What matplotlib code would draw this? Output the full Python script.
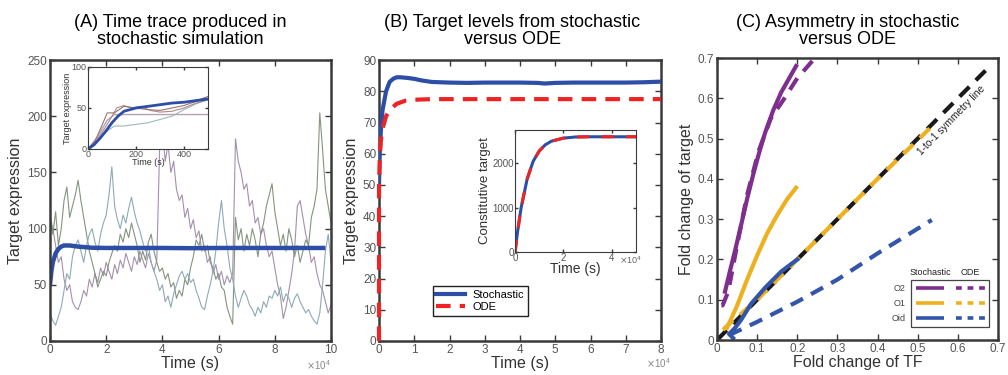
import numpy as np
import matplotlib
matplotlib.use("Agg")
import matplotlib.pyplot as plt
from matplotlib.ticker import FuncFormatter
from matplotlib.patches import Rectangle

plt.rcParams['font.family'] = ['Liberation Sans', 'DejaVu Sans']

# ---------------- Panel A data ----------------
time_a = [i / 10 for i in range(101)]  # x 1e4 s
trace_purple = [112, 100, 85, 70, 75, 55, 45, 50, 35, 30,
                28, 35, 45, 40, 55, 48, 60, 52, 65, 58,
                70, 62, 55, 68, 60, 72, 65, 78, 70, 62,
                75, 68, 80, 72, 65, 78, 70, 62, 72, 170,
                188, 160, 175, 150, 160, 135, 125, 130, 110, 118,
                100, 108, 92, 98, 80, 85, 70, 75, 60, 68,
                55, 62, 50, 58, 52, 60, 180, 160, 150, 135,
                140, 120, 125, 105, 110, 95, 100, 85, 75, 80,
                65, 50, 40, 20, 30, 45, 60, 80, 120, 125,
                110, 95, 85, 70, 75, 60, 50, 45, 35, 25, 32]
trace_green = [110, 95, 115, 85, 100, 125, 137, 110, 120, 130,
               143, 125, 110, 95, 80, 70, 60, 48, 55, 62,
               58, 70, 78, 85, 80, 95, 88, 100, 92, 105,
               95, 85, 70, 80, 72, 88, 95, 80, 70, 62,
               65, 55, 60, 48, 52, 38, 45, 40, 55, 50,
               65, 75, 90, 85, 95, 80, 85, 70, 65, 55,
               60, 48, 45, 30, 22, 15, 110, 90, 100, 80,
               95, 85, 100, 90, 75, 95, 105, 120, 130, 140,
               115, 100, 85, 95, 80, 100, 90, 75, 85, 70,
               80, 90, 85, 110, 120, 135, 203, 170, 135, 120, 105]
trace_bluegray = [25, 18, 14, 22, 30, 45, 60, 55, 75, 85,
                  90, 80, 70, 85, 95, 100, 88, 80, 95, 105,
                  112, 130, 155, 120, 108, 100, 112, 105, 118, 128,
                  115, 105, 98, 88, 80, 85, 70, 62, 55, 45,
                  50, 35, 40, 30, 42, 50, 58, 62, 55, 60,
                  52, 55, 45, 38, 30, 28, 40, 50, 62, 80,
                  105, 125, 100, 85, 65, 55, 40, 30, 38, 45,
                  40, 32, 28, 22, 30, 25, 35, 30, 40, 38,
                  45, 40, 48, 35, 42, 38, 30, 38, 42, 35,
                  30, 25, 28, 22, 18, 15, 25, 50, 80, 95, 70]
mean_a_t = [0, 0.05, 0.1, 0.2, 0.3, 0.4, 0.5, 0.7, 1.0, 1.5, 2, 3, 4, 5, 6, 7, 8, 9, 9.8]
mean_a_y = [50, 62, 70, 78, 82, 84, 85, 85, 84, 83, 82.8, 82.8, 82.8, 82.6, 82.8, 82.8, 82.8, 82.8, 82.8]

# inset A
ins_mean_t = [0, 25, 50, 75, 100, 125, 150, 200, 250, 300, 350, 400, 450, 500]
ins_mean_y = [0, 5, 13, 22, 32, 40, 46, 50, 52, 54, 56, 57, 59, 61]
ins_t1_t = [0, 30, 60, 80, 110, 130, 150, 200, 250, 300, 350, 400, 450, 480, 500]
ins_t1_y = [0, 10, 30, 44, 44, 48, 52, 50, 48, 47, 50, 53, 58, 62, 64]
ins_t2_t = [0, 40, 80, 120, 150, 180, 220, 260, 300, 350, 400, 450, 500]
ins_t2_y = [0, 12, 30, 50, 53, 50, 52, 47, 45, 46, 50, 56, 60]
ins_t3_t = [0, 40, 80, 110, 130, 500]
ins_t3_y = [0, 15, 35, 42, 42, 42]
ins_t4_t = [0, 40, 80, 110, 150, 200, 250, 300, 350, 400, 450, 500]
ins_t4_y = [0, 10, 22, 28, 28, 30, 32, 36, 40, 48, 55, 60]

# ---------------- Panel B data ----------------
stoch_t = [0, 0.02, 0.05, 0.1, 0.2, 0.3, 0.4, 0.5, 0.6, 0.8, 1.0, 1.2, 1.5, 2, 2.5, 3, 3.5, 4, 4.5, 4.7, 5, 5.5, 6, 6.5, 7, 7.5, 8]
stoch_y = [50, 60, 67, 74, 80, 83, 84, 84.5, 84.5, 84.3, 84, 83.5, 83, 82.8, 82.7, 82.8, 82.8, 82.8, 82.7, 82.5, 82.7, 82.8, 82.8, 82.8, 82.8, 82.9, 83.1]
ode_t = [0, 0.001, 0.02, 0.05, 0.1, 0.2, 0.3, 0.5, 0.75, 1.0, 1.5, 2, 3, 4, 5, 6, 7, 8]
ode_y = [0, 50, 58, 64, 68, 72, 74, 76, 77, 77.3, 77.5, 77.5, 77.5, 77.5, 77.5, 77.5, 77.5, 77.5]
const_t = [0, 0.1, 0.25, 0.5, 0.75, 1.0, 1.25, 1.5, 2.0, 2.5, 3.0, 4.0, 5.0]
const_y = [0, 450, 1000, 1650, 2050, 2280, 2420, 2500, 2570, 2595, 2600, 2600, 2600]

# ---------------- Panel C data ----------------
o2_stoch_x = [0.02, 0.032, 0.045, 0.06, 0.075, 0.09, 0.105, 0.12, 0.14, 0.16, 0.18, 0.197]
o2_stoch_y = [0.12, 0.17, 0.222, 0.285, 0.35, 0.41, 0.465, 0.515, 0.57, 0.615, 0.65, 0.68]
o2_ode_x = [0.011, 0.014, 0.028, 0.049, 0.075, 0.104, 0.134, 0.168, 0.2, 0.244]
o2_ode_y = [0.086, 0.086, 0.12, 0.23, 0.36, 0.47, 0.55, 0.60, 0.65, 0.70]
o1_stoch_x = [0.025, 0.05, 0.075, 0.1, 0.125, 0.15, 0.175, 0.197]
o1_stoch_y = [0.03, 0.085, 0.15, 0.21, 0.265, 0.31, 0.35, 0.378]
o1_ode_x = [0.015, 0.03, 0.06, 0.1, 0.2, 0.3, 0.4, 0.54]
o1_ode_y = [0.025, 0.04, 0.065, 0.1, 0.2, 0.3, 0.4, 0.535]
oid_stoch_x = [0.04, 0.03, 0.045, 0.06, 0.085, 0.12, 0.16, 0.2]
oid_stoch_y = [0.005, 0.015, 0.03, 0.05, 0.09, 0.13, 0.17, 0.2]
oid_ode_x = [0.03, 0.1, 0.2, 0.3, 0.4, 0.535]
oid_ode_y = [0.012, 0.045, 0.095, 0.15, 0.215, 0.298]
sym_x = [0, 0.68]
sym_y = [0, 0.68]

# ---------------- styling ----------------
SPINE = '#3a3a3a'
TICKC = '#555555'
LABC = '#333333'
BLUE = '#2d4ea6'
RED = '#ee2424'
PURPLE = '#7e2f8e'
ORANGE = '#edb120'
CBLUE = '#3355aa'
OFFSET = r'$\times\mathdefault{10^{4}}$'


def style(ax, fs=8, lw=1.8, length=4):
    for s in ax.spines.values():
        s.set_linewidth(lw)
        s.set_color(SPINE)
    ax.tick_params(direction='in', top=True, right=True, length=length, width=1.0,
                   color=SPINE, labelsize=fs, labelcolor=TICKC, pad=2)


gfmt = FuncFormatter(lambda v, p: '0' if abs(v) < 1e-9 else f'{v:g}')

fig = plt.figure(figsize=(10.08, 3.75), dpi=100)

# Panel A
axA = fig.add_axes([0.0496, 0.0907, 0.2788, 0.749])
axA.plot(time_a, trace_purple, color='#a58fad', lw=0.8)
axA.plot(time_a, trace_green, color='#849480', lw=0.8)
axA.plot(time_a, trace_bluegray, color='#8eaab6', lw=0.8)
axA.plot(mean_a_t, mean_a_y, color=BLUE, lw=3.2, solid_capstyle='butt')
axA.set_xlim(0, 10)
axA.set_ylim(0, 250)
axA.set_xticks([0, 2, 4, 6, 8, 10])
axA.set_yticks([0, 50, 100, 150, 200, 250])
axA.xaxis.set_major_formatter(gfmt)
style(axA, fs=8.5)
axA.set_xlabel('Time (s)', fontsize=11.5, color=LABC, labelpad=0)
axA.set_ylabel('Target expression', fontsize=11.5, color=LABC, labelpad=3)
axA.text(1.0, -0.06, OFFSET, transform=axA.transAxes, ha='right', va='top',
         fontsize=7, color='#888888')

# inset A
axAi = fig.add_axes([0.0873, 0.6027, 0.119, 0.2187])
axAi.plot(ins_t4_t, ins_t4_y, color='#9fb7bf', lw=0.8)
axAi.plot(ins_t3_t, ins_t3_y, color='#b3a3b5', lw=1.0)
axAi.plot(ins_t2_t, ins_t2_y, color='#b08a8a', lw=0.8)
axAi.plot(ins_t1_t, ins_t1_y, color='#9a7272', lw=0.8)
axAi.plot(ins_mean_t, ins_mean_y, color=BLUE, lw=2.0)
axAi.set_xlim(0, 500)
axAi.set_ylim(0, 100)
axAi.set_xticks([0, 200, 400])
axAi.set_yticks([0, 50, 100])
style(axAi, fs=6.5, lw=0.8, length=2)
axAi.tick_params(pad=1)
axAi.set_xlabel('Time (s)', fontsize=6.5, color=LABC, labelpad=-1)
axAi.set_ylabel('Target expression', fontsize=6.5, color=LABC, labelpad=0)

# Panel B
axB = fig.add_axes([0.376, 0.0907, 0.2798, 0.749])
lb1, = axB.plot(stoch_t, stoch_y, color=BLUE, lw=3.0, label='Stochastic', zorder=3)
lb2, = axB.plot(ode_t, ode_y, color=RED, lw=3.0, ls=(0, (3.5, 2.2)), label='ODE',
                clip_on=False, zorder=4)
axB.set_xlim(0, 8)
axB.set_ylim(0, 90)
axB.set_xticks(list(range(9)))
axB.set_yticks(list(range(0, 91, 10)))
axB.xaxis.set_major_formatter(gfmt)
style(axB, fs=8.5)
axB.set_xlabel('Time (s)', fontsize=11.5, color=LABC, labelpad=0)
axB.set_ylabel('Target expression', fontsize=11.5, color=LABC, labelpad=3)
axB.text(1.035, -0.055, OFFSET, transform=axB.transAxes, ha='right', va='top',
         fontsize=7, color='#888888')
leg = axB.legend(handles=[lb1, lb2], loc='lower left', bbox_to_anchor=(0.19, 0.09),
                 borderaxespad=0, fontsize=8, handlelength=2.6, fancybox=False,
                 framealpha=1, edgecolor='#222222', borderpad=0.35, labelspacing=0.2,
                 handletextpad=0.6)
leg.get_frame().set_linewidth(1.0)
leg.set_zorder(6)

# inset B
axBi = fig.add_axes([0.511, 0.328, 0.12, 0.325])
axBi.plot(const_t, const_y, color=BLUE, lw=2.2)
axBi.plot(const_t, const_y, color=RED, lw=2.2, ls=(0, (4, 4)))
axBi.set_xlim(0, 5)
axBi.set_ylim(0, 2750)
axBi.set_xticks([0, 2, 4])
axBi.set_yticks([0, 1000, 2000])
axBi.xaxis.set_major_formatter(gfmt)
style(axBi, fs=7, lw=0.8, length=2)
axBi.tick_params(pad=1)
axBi.set_xlabel('Time (s)', fontsize=10, color=LABC, labelpad=-1)
axBi.set_ylabel('Constitutive target', fontsize=9.5, color=LABC, labelpad=1)
axBi.text(0.86, -0.02, OFFSET, transform=axBi.transAxes, ha='left', va='top',
          fontsize=6.5, color='#666666')

# Panel C
axC = fig.add_axes([0.7113, 0.0933, 0.2788, 0.752])
dash = (0, (3.3, 2.2))
axC.plot(sym_x, sym_y, color='#1a1a1a', lw=3.0, ls=dash)
axC.plot(o1_ode_x, o1_ode_y, color=ORANGE, lw=3.0, ls=dash)
axC.plot(o2_stoch_x, o2_stoch_y, color=PURPLE, lw=3.0)
axC.plot(o2_ode_x, o2_ode_y, color=PURPLE, lw=3.0, ls=dash)
axC.plot(o1_stoch_x, o1_stoch_y, color=ORANGE, lw=3.0)
axC.plot(oid_stoch_x, oid_stoch_y, color=CBLUE, lw=3.0)
axC.plot(oid_ode_x, oid_ode_y, color=CBLUE, lw=3.0, ls=dash)
axC.set_xlim(0, 0.7)
axC.set_ylim(0, 0.7)
ticksC = [i / 10 for i in range(8)]
axC.set_xticks(ticksC)
axC.set_yticks(ticksC)
axC.xaxis.set_major_formatter(gfmt)
axC.yaxis.set_major_formatter(gfmt)
style(axC, fs=8.5)
axC.set_xlabel('Fold change of TF', fontsize=11.5, color=LABC, labelpad=0)
axC.set_ylabel('Fold change of target', fontsize=11.5, color=LABC, labelpad=3)
axC.text(0.585, 0.545, '1-to-1 symmetry line', rotation=46, fontsize=7.3,
         ha='center', va='center', color='#222222', rotation_mode='anchor')

# custom legend C
tr = axC.transAxes
axC.add_patch(Rectangle((0.689, 0.046), 0.279, 0.167, transform=tr, fill=True,
                        facecolor='white', edgecolor='#444444', lw=0.9, zorder=5))
for yy, col, lab in [(0.184, PURPLE, 'O2'), (0.131, ORANGE, 'O1'), (0.078, CBLUE, 'Oid')]:
    axC.plot([0.708, 0.808], [yy, yy], color=col, lw=2.6, transform=tr, zorder=6,
             solid_capstyle='butt')
    axC.plot([0.851, 0.955], [yy, yy], color=col, lw=2.6, ls=(0, (1.6, 1.6)),
             transform=tr, zorder=6)
    axC.text(0.672, yy, lab, fontsize=6.5, color='#444444', ha='right', va='center', transform=tr)
axC.text(0.758, 0.238, 'Stochastic', fontsize=6.5, color='#222222', ha='center', va='center', transform=tr)
axC.text(0.90, 0.238, 'ODE', fontsize=6.5, color='#222222', ha='center', va='center', transform=tr)

# titles
fig.text(0.179, 0.917, '(A) Time trace produced in\nstochastic simulation', ha='center', va='center',
         fontsize=13, linespacing=1.0)
fig.text(0.508, 0.917, '(B) Target levels from stochastic\nversus ODE', ha='center', va='center',
         fontsize=13, linespacing=1.0)
fig.text(0.841, 0.917, '(C) Asymmetry in stochastic\nversus ODE', ha='center', va='center',
         fontsize=13, linespacing=1.0)

fig.savefig('out.png', dpi=100)
